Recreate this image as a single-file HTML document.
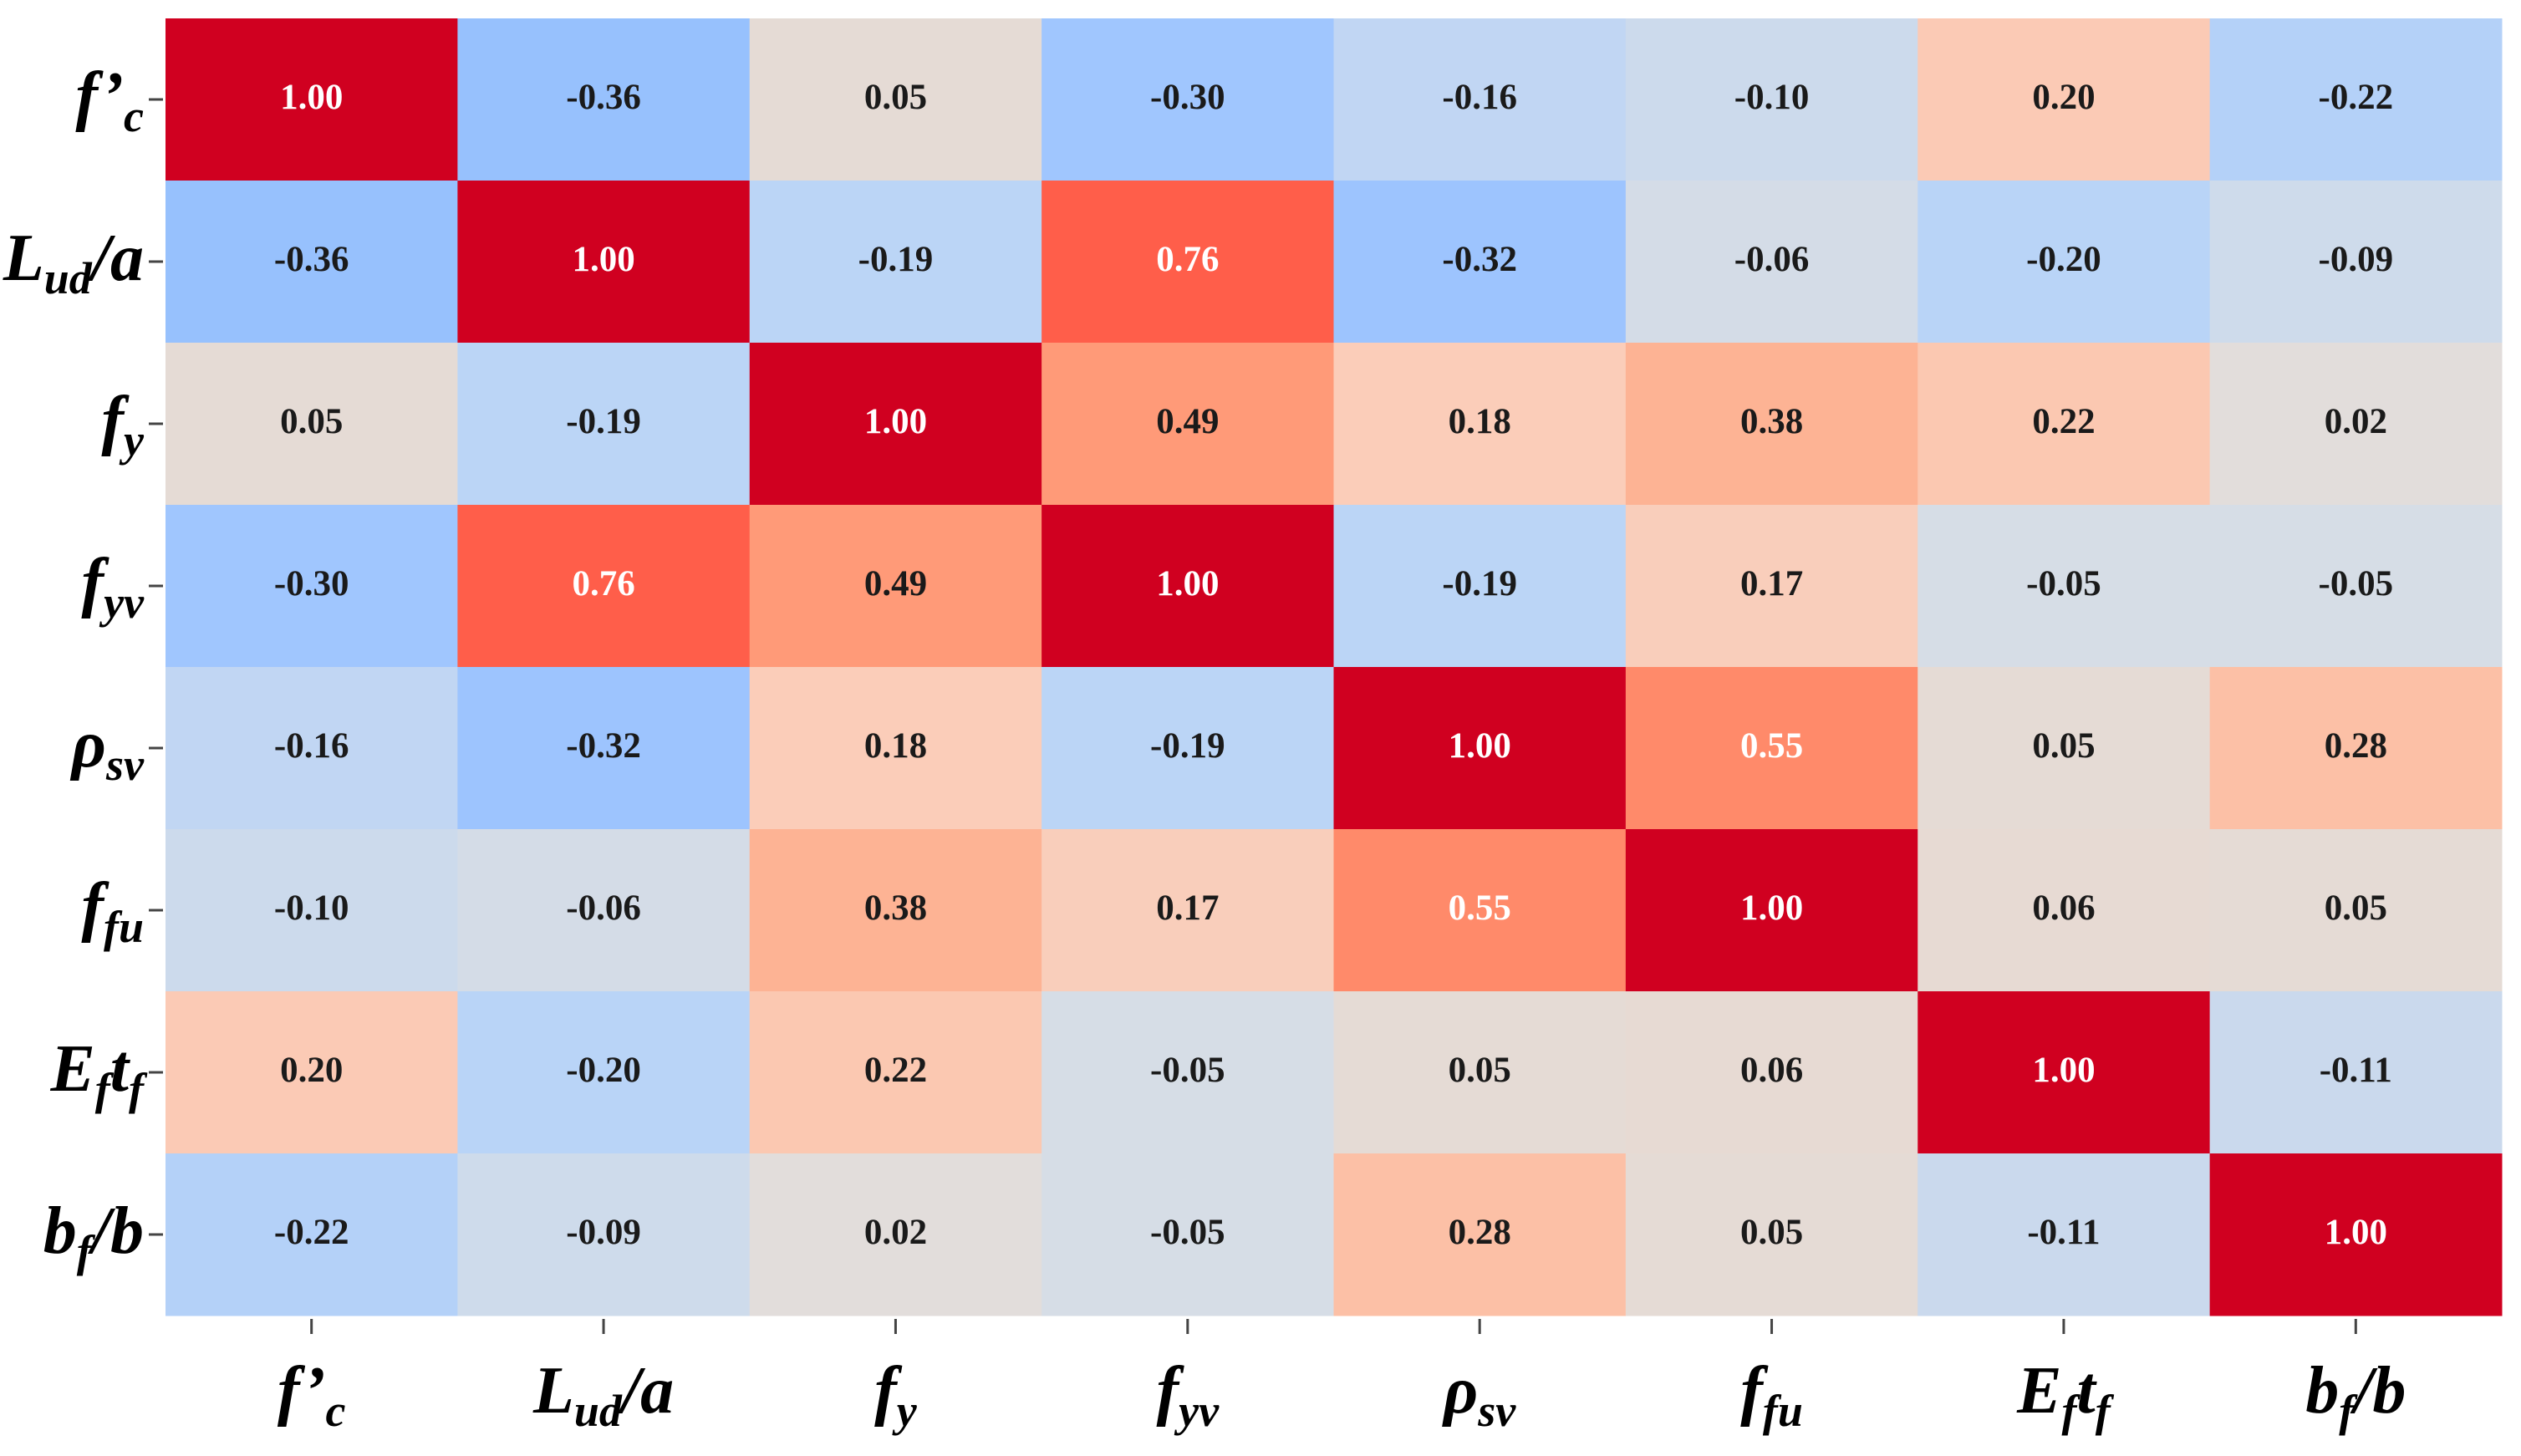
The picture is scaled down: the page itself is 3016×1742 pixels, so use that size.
<!DOCTYPE html>
<html><head><meta charset="utf-8"><style>
html,body{margin:0;padding:0;background:#fff;}
svg{display:block;}
.lab{font-family:"Liberation Serif",serif;font-weight:bold;font-style:italic;font-size:80px;fill:#000;}
.num{font-family:"Liberation Serif",serif;font-weight:bold;font-size:43px;}
</style></head><body>
<svg id="chart" width="3016" height="1742" viewBox="0 0 3016 1742" xmlns="http://www.w3.org/2000/svg">
<g id="cells"></g>
<g id="ticks"></g>
<g id="ylabels"></g>
<g id="xlabels"></g>
</svg>
<script>
const categories = ["fc","lud","fy","fyv","rho","ffu","eftf","bfb"];
const row0 = [1.00,-0.36,0.05,-0.30,-0.16,-0.10,0.20,-0.22];
const row1 = [-0.36,1.00,-0.19,0.76,-0.32,-0.06,-0.20,-0.09];
const row2 = [0.05,-0.19,1.00,0.49,0.18,0.38,0.22,0.02];
const row3 = [-0.30,0.76,0.49,1.00,-0.19,0.17,-0.05,-0.05];
const row4 = [-0.16,-0.32,0.18,-0.19,1.00,0.55,0.05,0.28];
const row5 = [-0.10,-0.06,0.38,0.17,0.55,1.00,0.06,0.05];
const row6 = [0.20,-0.20,0.22,-0.05,0.05,0.06,1.00,-0.11];
const row7 = [-0.22,-0.09,0.02,-0.05,0.28,0.05,-0.11,1.00];
const matrix = [row0,row1,row2,row3,row4,row5,row6,row7];

const NS="http://www.w3.org/2000/svg";
const L=198,T=22,W=2795,H=1552;
const cw=W/categories.length, ch=H/categories.length;
const xPos=i=>L+i*cw, yPos=i=>T+i*ch;
const stops=[[-0.36,[151,193,253]],[-0.30,[160,198,254]],[-0.20,[185,212,247]],[-0.10,[204,218,236]],[-0.05,[214,221,230]],[0.02,[226,221,219]],[0.05,[229,219,213]],[0.18,[251,205,185]],[0.28,[252,192,166]],[0.38,[253,179,148]],[0.49,[255,154,120]],[0.55,[255,138,106]],[0.76,[255,94,74]],[0.90,[225,40,45]],[1.00,[208,0,32]]];
function color(v){
  if(v<=stops[0][0]) return `rgb(${stops[0][1]})`;
  for(let i=1;i<stops.length;i++){ if(v<=stops[i][0]){const a=stops[i-1],b=stops[i];const t=(v-a[0])/(b[0]-a[0]);
    return `rgb(${a[1].map((c,k)=>Math.round(c+(b[1][k]-c)*t)).join(',')})`;}}
  return `rgb(${stops[stops.length-1][1]})`;
}
const cells=document.getElementById('cells');
matrix.forEach((row,r)=>row.forEach((v,c)=>{
  const rect=document.createElementNS(NS,'rect');
  rect.setAttribute('x',xPos(c));rect.setAttribute('y',yPos(r));
  rect.setAttribute('width',cw+0.5);rect.setAttribute('height',ch+0.5);
  rect.setAttribute('fill',color(v));
  
  
  cells.appendChild(rect);
  const t=document.createElementNS(NS,'text');
  t.setAttribute('x',xPos(c)+cw/2);t.setAttribute('y',yPos(r)+ch/2+11);
  t.setAttribute('text-anchor','middle');t.setAttribute('class','num');
  t.setAttribute('fill',v>0.5?'#fff':'#1a1a1a');
  t.textContent=v.toFixed(2);
  
  
  cells.appendChild(t);
}));
const ticks=document.getElementById('ticks');
categories.forEach((k,i)=>{
  const a=document.createElementNS(NS,'line');
  a.setAttribute('x1',xPos(i)+cw/2);a.setAttribute('x2',xPos(i)+cw/2);a.setAttribute('y1',T+H+4);a.setAttribute('y2',T+H+22);
  a.setAttribute('stroke','#444');a.setAttribute('stroke-width','3');
  
  
  ticks.appendChild(a);
  const b=document.createElementNS(NS,'line');
  b.setAttribute('y1',yPos(i)+ch/2);b.setAttribute('y2',yPos(i)+ch/2);b.setAttribute('x1',L-20);b.setAttribute('x2',L-3);
  b.setAttribute('stroke','#444');b.setAttribute('stroke-width','3');
  
  
  ticks.appendChild(b);
});
const labelParts = {
  fc:[["f’",0],["c",1]],
  lud:[["L",0],["ud",1],["/a",0]],
  fy:[["f",0],["y",1]],
  fyv:[["f",0],["yv",1]],
  rho:[["ρ",0],["sv",1]],
  ffu:[["f",0],["fu",1]],
  eftf:[["E",0],["f",1],["t",0],["f",1]],
  bfb:[["b",0],["f",1],["/b",0]]
};
function makeLabel(k,x,y,anchor){
  const t=document.createElementNS(NS,'text');
  t.setAttribute('x',x);t.setAttribute('y',y);t.setAttribute('text-anchor',anchor);t.setAttribute('class','lab');
  let prevSub=false;
  labelParts[k].forEach(([s,sub])=>{
    const ts=document.createElementNS(NS,'tspan');
    ts.textContent=s;
    let dy=0;
    if(sub&&!prevSub)dy=16; else if(!sub&&prevSub)dy=-16;
    if(dy)ts.setAttribute('dy',dy);
    if(sub)ts.setAttribute('font-size','54');
    prevSub=!!sub;
    t.appendChild(ts);
  });
  return t;
}
const yl=document.getElementById('ylabels'), xl=document.getElementById('xlabels');
categories.forEach((k,i)=>{
  const a=makeLabel(k,172,yPos(i)+ch/2+22,'end');
  
  
  yl.appendChild(a);
  const b=makeLabel(k,xPos(i)+cw/2,1690,'middle');
  
  
  xl.appendChild(b);
});
</script>
</body></html>
